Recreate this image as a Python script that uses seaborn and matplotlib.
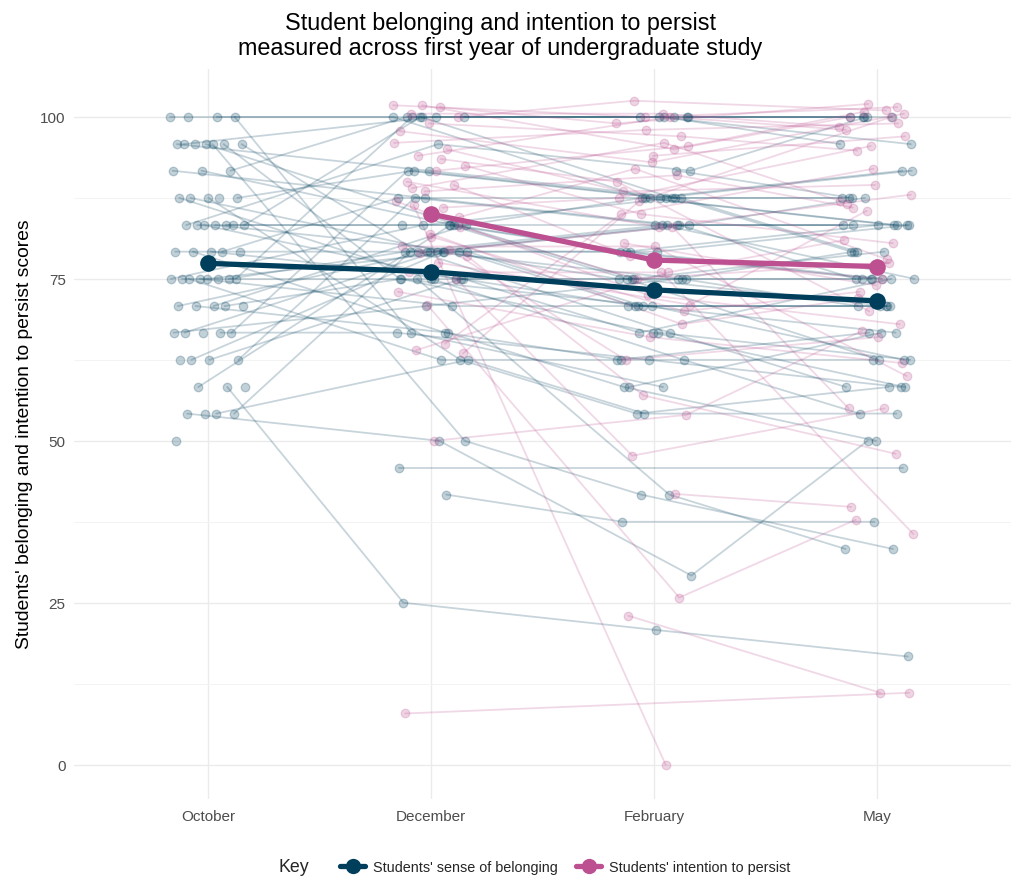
import numpy as np
import pandas as pd
import matplotlib
matplotlib.use("Agg")
import matplotlib.pyplot as plt
import seaborn as sns
from matplotlib.lines import Line2D
from matplotlib.ticker import MultipleLocator

nan = np.nan
months = ["October", "December", "February", "May"]

# Students' sense of belonging (one entry per student, per month)
bel_oct = [100, 100, 100, 100, 95.8, 95.8, 95.8, 95.8, 95.8, 95.8, 95.8, 91.7, 91.7, 91.7,
           87.5, 87.5, 87.5, 87.5, 87.5, 83.3, 83.3, 83.3, 83.3, 83.3, 83.3, 83.3, 79.2, 79.2,
           79.2, 79.2, 79.2, 75, 75, 75, 75, 75, 75, 75, 75, 70.8, 70.8, 70.8, 70.8, 70.8,
           66.7, 66.7, 66.7, 66.7, 66.7, 62.5, 62.5, 62.5, 62.5, 58.3, 58.3, 58.3, 54.2, 54.2,
           54.2, 54.2, 50, nan, nan, nan, nan, nan, nan, nan, nan]
bel_dec = [100, 100, nan, 66.7, 83.3, 91.7, 75, nan, 79.2, 50, 100, 100, 83.3, 87.5,
           nan, 79.2, 91.7, 62.5, 75, 83.3, 83.3, 100, 79.2, 95.8, nan, 75, 79.2, 87.5,
           66.7, nan, 75, 75, 79.2, 70.8, 83.3, nan, 62.5, 100, 79.2, 79.2, 75, 66.7, nan,
           83.3, 79.2, 91.7, nan, 70.8, 66.7, 79.2, 87.5, 75, nan, 25, 83.3, nan, 62.5, 50,
           79.2, nan, nan, 45.8, 41.7, 75, 100, nan, nan, nan, nan]
bel_feb = [100, 87.5, nan, 58.3, 75, 87.5, 70.8, nan, 66.7, 41.7, 100, 100, 79.2, 83.3,
           nan, 75, 87.5, 54.2, 62.5, 83.3, 79.2, 87.5, 70.8, 91.7, nan, 75, 83.3, 87.5,
           62.5, nan, 66.7, 75, 79.2, 70.8, 87.5, nan, 62.5, 100, 70.8, 75, 66.7, 58.3, nan,
           87.5, 83.3, 87.5, nan, 75, 62.5, 79.2, 83.3, 70.8, nan, 20.8, 75, nan, 54.2, 29.2,
           83.3, nan, nan, nan, 37.5, 41.7, 100, 100, 66.7, 58.3, 91.7]
bel_may = [100, 83.3, nan, nan, 70.8, 79.2, 62.5, nan, 58.3, 33.3, 100, 95.8, 75, 83.3,
           nan, 75, 87.5, 58.3, 54.2, 83.3, 83.3, 87.5, 66.7, 100, nan, 79.2, 75, 91.7,
           62.5, nan, 75, 75, 83.3, 70.8, 79.2, nan, 66.7, 95.8, 70.8, 70.8, 58.3, 50, nan,
           83.3, 87.5, 91.7, nan, 79.2, 58.3, 75, 83.3, 70.8, nan, 16.7, 62.5, nan, 54.2, 50,
           75, nan, nan, 45.8, 37.5, 33.3, 100, 100, 62.5, 66.7, 87.5]

# Students' intention to persist
per_dec = [101.8, 101.8, 101.5, 100.5, 100.0, 99.0, 97.8, 95.0, 94.0, 92.5, 91.7, 90.0, 89.5,
           88.5, 87.0, 86.0, 86.4, 83.0, 81.5, 80.0, 79.5, 79.0, 78.5, 77.5, 76.0, 75.0, 71.0,
           73.0, 65.0, 64.0, 63.5, 50.0, 7.9, nan, nan, 96.0, 93.5, 89.0, 84.5, 82.0, nan, nan, nan]
per_feb = [95.0, 100.0, 99.0, 100.5, 102.5, 97.0, 93.0, 88.5, 100.0, 85.0, 95.5, 83.0, 78.5,
           91.0, 72.5, 87.5, 0.0, 75.0, 70.0, 80.0, 62.5, 83.0, 57.0, 71.0, 76.0, 47.7, 25.8,
           66.0, 85.0, 76.0, 87.0, 54.0, nan, 23.0, 41.8, 98.0, 90.0, 96.0, 92.0, 68.0, 94.0, 80.5, nan]
per_may = [100.0, 101.5, 102.0, 98.5, 101.0, 94.8, 100.5, 89.5, 98.0, 80.5, 100.8, 88.0, 75.0,
           86.0, 68.0, 95.5, nan, 77.5, 73.0, 60.0, 66.0, 55.0, 48.0, 85.5, 35.6, 55.0, 37.8,
           62.0, 92.0, 81.0, 100.0, 67.0, 11.1, 11.1, 39.8, 99.0, 70.0, 87.0, 78.0, 72.0, 97.0, 74.0, 86.5]

# Group means
bel_mean = [77.4, 76.1, 73.3, 71.6]
per_mean = [85.0, 77.9, 76.9]

bel_label = "Students' sense of belonging"
per_label = "Students' intention to persist"
c_bel = "#003f5c"
c_per = "#bc5090"


def to_long(cols, tpos, tag):
    rows = []
    for t, vals in zip(tpos, cols):
        for i, v in enumerate(vals):
            if not np.isnan(v):
                off = ((i * 0.618034 + t * 0.381966) % 1.0 - 0.5) * 0.34
                rows.append(dict(student=f"{tag}{i}", t=t, x=t + off, score=v))
    return pd.DataFrame(rows).sort_values(["student", "t"]).reset_index(drop=True)


bel_df = to_long([bel_oct, bel_dec, bel_feb, bel_may], [0, 1, 2, 3], "b")
per_df = to_long([per_dec, per_feb, per_may], [1, 2, 3], "p")
bel_m = pd.DataFrame(dict(x=[0, 1, 2, 3], score=bel_mean))
per_m = pd.DataFrame(dict(x=[1, 2, 3], score=per_mean))

sns.set_theme(style="whitegrid")
plt.rcParams["font.family"] = ["Liberation Sans", "DejaVu Sans"]

fig = plt.figure(figsize=(10.11, 8.78), dpi=100)
ax = fig.add_axes([74 / 1011, 1 - 800 / 878, 1 - 74 / 1011, (800 - 70) / 878])

for df, col in [(bel_df, c_bel), (per_df, c_per)]:
    sns.lineplot(data=df, x="x", y="score", units="student", estimator=None, sort=True,
                 color=col, alpha=0.22, linewidth=1.3, ax=ax, legend=False)
for df, col in [(bel_df, c_bel), (per_df, c_per)]:
    sns.scatterplot(data=df, x="x", y="score", color=col, alpha=0.24, s=38,
                    edgecolor=col, linewidth=0.9, ax=ax, legend=False, zorder=3)

sns.lineplot(data=bel_m, x="x", y="score", color=c_bel, linewidth=3.8, marker="o",
             markersize=12, markeredgewidth=0, ax=ax, legend=False, zorder=6)
sns.lineplot(data=per_m, x="x", y="score", color=c_per, linewidth=3.8, marker="o",
             markersize=12, markeredgewidth=0, ax=ax, legend=False, zorder=6)

ax.set_xlim(-0.6, 3.6)
ax.set_ylim(-5.3, 107.4)
ax.set_xticks([0, 1, 2, 3])
ax.set_xticklabels(months)
ax.set_yticks([0, 25, 50, 75, 100])
ax.yaxis.set_minor_locator(MultipleLocator(12.5))
ax.grid(which="major", color="#ebebeb", linewidth=1.0)
ax.grid(which="minor", axis="y", color="#f3f3f3", linewidth=0.7)
ax.set_facecolor("white")
for s in ax.spines.values():
    s.set_visible(False)
ax.tick_params(axis="both", which="both", length=0, labelsize=11, labelcolor="#4d4d4d")
ax.tick_params(axis="x", pad=7)
ax.tick_params(axis="y", pad=6)
ax.set_xlabel("")
ax.set_ylabel("")

fig.text(0.495, 1 - 36 / 878,
         "Student belonging and intention to persist\nmeasured across first year of undergraduate study",
         ha="center", va="center", fontsize=16.8, linespacing=1.12, color="black")
fig.text(25 / 1011, 1 - 434 / 878, "Students' belonging and intention to persist scores",
         rotation=90, ha="center", va="center", fontsize=13.9, color="black")

fig.text(294 / 1011, 1 - 868 / 878, "Key", ha="center", va="center", fontsize=12.8)
handles = [Line2D([0], [0], color=c_bel, lw=3.8, marker="o", markersize=11, markeredgewidth=0),
           Line2D([0], [0], color=c_per, lw=3.8, marker="o", markersize=11, markeredgewidth=0)]
fig.legend(handles, [bel_label, per_label], loc="center", bbox_to_anchor=(565 / 1011, 1 - 868 / 878),
           ncol=2, frameon=False, fontsize=10.4, handlelength=1.75, columnspacing=1.3,
           handletextpad=0.5)

fig.savefig("out.png", dpi=100, facecolor="white")
